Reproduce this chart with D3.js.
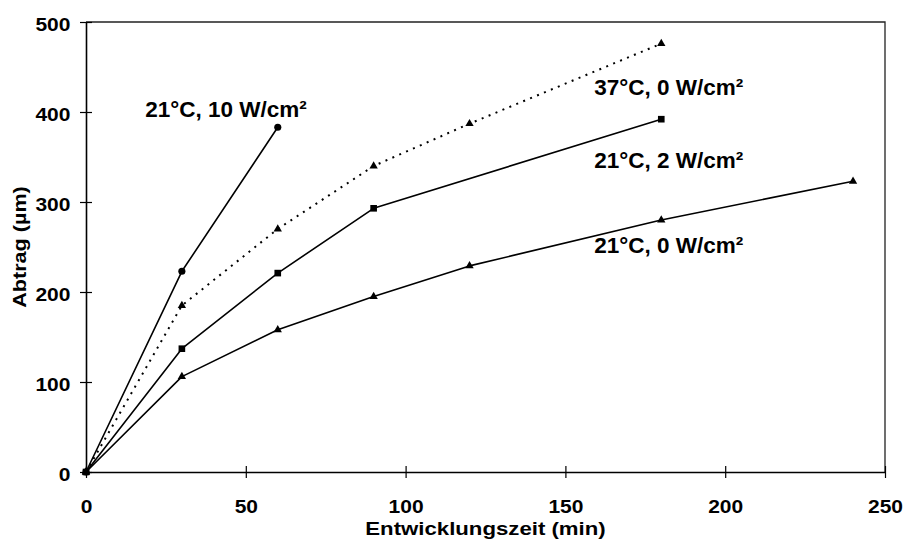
<!DOCTYPE html>
<html>
<head>
<meta charset="utf-8">
<script src="https://cdn.jsdelivr.net/npm/d3@7"></script>
<style>
  html, body { margin: 0; padding: 0; background: #fff; }
  svg { display: block; font-family: "Liberation Sans", Arial, Helvetica, sans-serif; font-weight: bold; }
</style>
</head>
<body>
<svg id="chart" width="903" height="550"></svg>
<script>
// Etch removal (Abtrag) versus development time for four process conditions
const xTicks = [0, 50, 100, 150, 200, 250];
const yTicks = [0, 100, 200, 300, 400, 500];

// 21 °C, 10 W/cm²
const time10W = [0, 30, 60];
const abtrag10W = [0, 223, 383];
// 37 °C, 0 W/cm²
const time37C = [0, 30, 60, 90, 120, 180];
const abtrag37C = [0, 185, 270, 340, 387, 476];
// 21 °C, 2 W/cm²
const time2W = [0, 30, 60, 90, 180];
const abtrag2W = [0, 137, 221, 293, 392];
// 21 °C, 0 W/cm²
const time0W = [0, 30, 60, 90, 120, 180, 240];
const abtrag0W = [0, 106, 158, 195, 229, 280, 323];

const seriesLabels = ["21°C, 10 W/cm²", "37°C, 0 W/cm²", "21°C, 2 W/cm²", "21°C, 0 W/cm²"];
// label anchor points in data units (time, abtrag)
const labelTime = [18.5, 159, 159, 159];
const labelAbtrag = [394, 419, 338, 243];

const series = [
  { t: time10W, v: abtrag10W, marker: "circle", dotted: false },
  { t: time37C, v: abtrag37C, marker: "triangle", dotted: true },
  { t: time2W, v: abtrag2W, marker: "square", dotted: false },
  { t: time0W, v: abtrag0W, marker: "triangle", dotted: false }
];

const W = 903, H = 550;
const margin = { top: 22, right: 18, bottom: 78, left: 86 };
const svg = d3.select("#chart");

const x = d3.scaleLinear().domain([0, 250]).range([margin.left, W - margin.right]);
const y = d3.scaleLinear().domain([0, 500]).range([H - margin.bottom, margin.top]);

// frame: top and right border
svg.append("path")
  .attr("d", `M${x(0)},${y(500)}H${x(250)}V${y(0)}`)
  .attr("fill", "none").attr("stroke", "#222").attr("stroke-width", 1.3);

// x axis
const xAxis = svg.append("g")
  .attr("transform", `translate(0,${y(0)})`)
  .call(d3.axisBottom(x).tickValues(xTicks).tickSizeInner(6).tickSizeOuter(0).tickFormat(d3.format("d")));
xAxis.selectAll(".tick line").attr("y1", -6).attr("y2", 6).attr("stroke", "#000").attr("stroke-width", 1.2);
xAxis.selectAll(".tick text")
  .attr("y", 41).attr("dy", 0)
  .attr("transform", "scale(1.2,1)")
  .style("font-size", "17.5px").style("font-weight", "bold").attr("fill", "#000")
  .style("font-family", "'Liberation Sans', Arial, sans-serif");
xAxis.select(".domain").attr("stroke", "#000").attr("stroke-width", 1.6);

// y axis
const yAxis = svg.append("g")
  .attr("transform", `translate(${x(0)},0)`)
  .call(d3.axisLeft(y).tickValues(yTicks).tickSizeInner(6).tickSizeOuter(0).tickFormat(d3.format("d")));
yAxis.selectAll(".tick line").attr("x1", -6).attr("x2", 6).attr("stroke", "#000").attr("stroke-width", 1.2);
yAxis.selectAll(".tick text")
  .attr("x", -13).attr("dy", "0.5em")
  .attr("transform", "scale(1.2,1)")
  .style("font-size", "17.5px").style("font-weight", "bold").attr("fill", "#000")
  .style("font-family", "'Liberation Sans', Arial, sans-serif");
yAxis.select(".domain").attr("stroke", "#000").attr("stroke-width", 1.6);

// axis titles
svg.append("text")
  .attr("transform", `translate(${(x(0) + x(250)) / 2},535) scale(1.2,1)`)
  .attr("text-anchor", "middle")
  .style("font-size", "18.5px")
  .text("Entwicklungszeit (min)");

svg.append("text")
  .attr("transform", `translate(26,${(y(0) + y(500)) / 2}) rotate(-90) scale(1.2,1)`)
  .attr("text-anchor", "middle")
  .style("font-size", "18px")
  .text("Abtrag (µm)");

// series lines
const line = d3.line().x(d => x(d[0])).y(d => y(d[1]));
series.forEach(s => {
  const pts = s.t.map((t, i) => [t, s.v[i]]);
  svg.append("path")
    .datum(pts)
    .attr("d", line)
    .attr("fill", "none")
    .attr("stroke", "#000")
    .attr("stroke-width", s.dotted ? 2 : 1.6)
    .attr("stroke-dasharray", s.dotted ? "2,5.5" : null)
    .attr("stroke-linejoin", "round");
});

// markers
const symbolFor = { circle: d3.symbolCircle, triangle: d3.symbolTriangle, square: d3.symbolSquare };
const sizeFor = { circle: 40, triangle: 30, square: 44 };
series.forEach(s => {
  svg.append("g").selectAll("path")
    .data(s.t.map((t, i) => [t, s.v[i]]))
    .join("path")
    .attr("transform", d => `translate(${x(d[0])},${y(d[1])})`)
    .attr("d", d3.symbol().type(symbolFor[s.marker]).size(sizeFor[s.marker]))
    .attr("fill", "#000");
});

// series labels
svg.append("g").selectAll("text")
  .data(seriesLabels)
  .join("text")
  .attr("x", (d, i) => x(labelTime[i]))
  .attr("y", (d, i) => y(labelAbtrag[i]))
  .style("font-size", "22.5px")
  .attr("fill", "#000")
  .text(d => d);
</script>
</body>
</html>
